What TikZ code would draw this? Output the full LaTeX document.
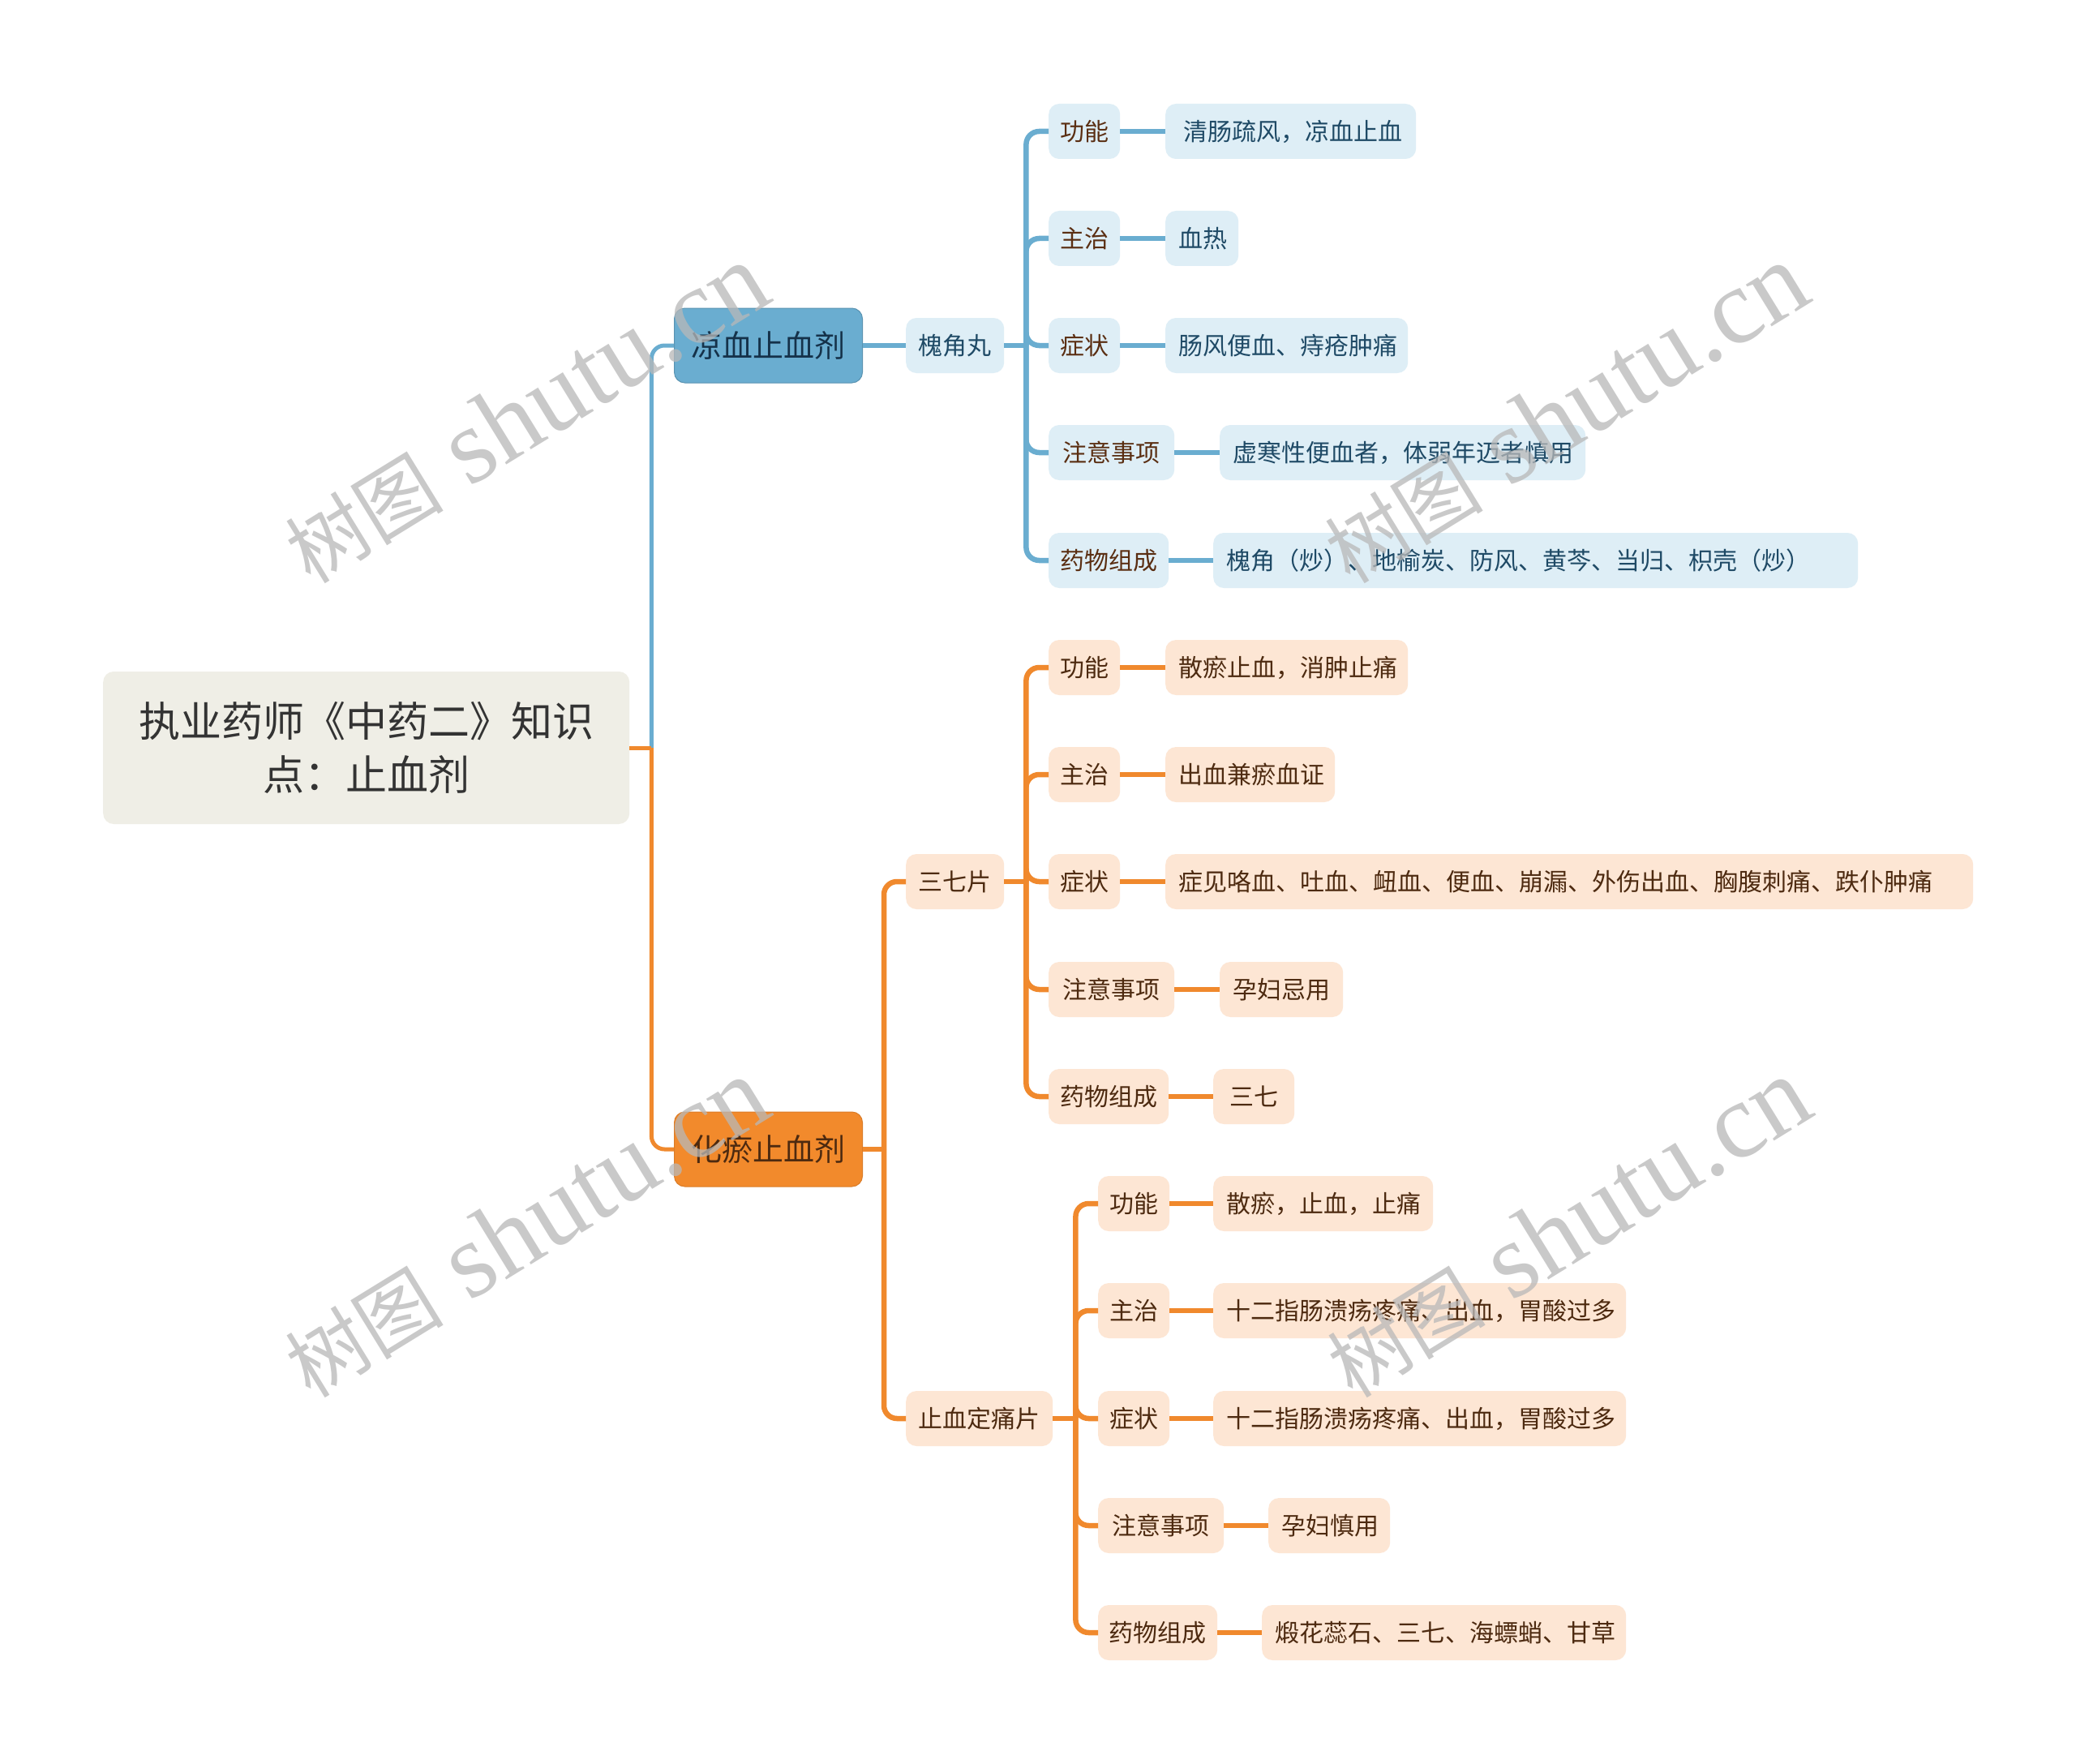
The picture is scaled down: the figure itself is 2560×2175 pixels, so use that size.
\documentclass[tikz,border=0pt]{standalone}
\usepackage{fontspec}
\newfontfamily\cjk{Noto Sans CJK SC}
\newfontfamily\wmlat{Liberation Serif}
\definecolor{rootfill}{HTML}{EFEEE6}
\definecolor{bmain}{HTML}{6AADD0}
\definecolor{bline}{HTML}{6AADD0}
\definecolor{bfill}{HTML}{DEEEF6}
\definecolor{btext}{HTML}{1F4A66}
\definecolor{btitle}{HTML}{15324A}
\definecolor{omain}{HTML}{F28A2C}
\definecolor{oline}{HTML}{F0892D}
\definecolor{ofill}{HTML}{FDE6D4}
\definecolor{otext}{HTML}{4D2A10}
\definecolor{labtext}{HTML}{5A2E12}
\definecolor{roottext}{HTML}{333333}
\definecolor{wmcol}{HTML}{B8B8B8}
\tikzset{
  small/.style={rounded corners=13pt, inner sep=0pt, minimum height=68pt, anchor=west, align=center, font=\cjk\fontsize{30}{36}\selectfont},
  blab/.style={small, fill=bfill, text=labtext},
  bval/.style={small, fill=bfill, text=btext, inner xsep=16pt, align=left},
  olab/.style={small, fill=ofill, text=otext},
  oval/.style={small, fill=ofill, text=otext, inner xsep=16pt, align=left},
  topic/.style={rounded corners=13pt, inner sep=0pt, minimum height=92pt, minimum width=232pt, anchor=west, font=\cjk\fontsize{38}{44}\selectfont},
  bcon/.style={draw=bline, line width=6.5pt, rounded corners=16pt},
  ocon/.style={draw=oline, line width=6.5pt, rounded corners=16pt},
  wm/.style={text=wmcol, opacity=0.75, rotate=31.6}
}
\newcommand{\wmtext}{{\cjk\fontsize{98}{110}\selectfont 树图}{\wmlat\fontsize{132}{140}\selectfont\ shutu.cn}}
\begin{document}
\begin{tikzpicture}[x=1pt,y=-1pt]
\useasboundingbox (0,0) rectangle (2560,2175);
\fill[white] (0,0) rectangle (2560,2175);

% root
\node[rounded corners=13pt, fill=rootfill, minimum width=649pt, minimum height=188pt, inner sep=0pt, anchor=west, align=center, text=roottext, font=\cjk\fontsize{51}{66}\selectfont] (root) at (127,922) {执业药师《中药二》知识\\点：止血剂};

% level 1
\node[topic, fill=bmain, draw=bmain!85!black, line width=1pt, text=btitle] (cool) at (831,426) {凉血止血剂};
\node[topic, fill=omain, draw=omain!90!black, line width=1pt, text=otext] (stasis) at (831,1417) {化瘀止血剂};

% blue branch
\node[small, fill=bfill, text=btext, minimum width=121pt] (hjw) at (1117,426) {槐角丸};
\node[blab, minimum width=88pt] (b1) at (1293,162) {功能};
\node[blab, minimum width=88pt] (b2) at (1293,294) {主治};
\node[blab, minimum width=88pt] (b3) at (1293,426) {症状};
\node[blab, minimum width=155pt] (b4) at (1293,558) {注意事项};
\node[blab, minimum width=148pt] (b5) at (1293,691) {药物组成};
\node[bval, text width=265pt, inner xsep=22pt] (bv1) at (1437,162) {清肠疏风，凉血止血};
\node[bval, text width=58pt] (bv2) at (1437,294) {血热};
\node[bval, text width=267pt] (bv3) at (1437,426) {肠风便血、痔疮肿痛};
\node[bval, text width=419pt] (bv4) at (1504,558) {虚寒性便血者，体弱年迈者慎用};
\node[bval, text width=763pt] (bv5) at (1496,691) {槐角（炒）、地榆炭、防风、黄芩、当归、枳壳（炒）};

% orange branch: 三七片
\node[small, fill=ofill, text=otext, minimum width=121pt] (sqp) at (1117,1087) {三七片};
\node[olab, minimum width=88pt] (s1) at (1293,823) {功能};
\node[olab, minimum width=88pt] (s2) at (1293,955) {主治};
\node[olab, minimum width=88pt] (s3) at (1293,1087) {症状};
\node[olab, minimum width=155pt] (s4) at (1293,1220) {注意事项};
\node[olab, minimum width=148pt] (s5) at (1293,1352) {药物组成};
\node[oval, text width=267pt] (sv1) at (1437,823) {散瘀止血，消肿止痛};
\node[oval, text width=177pt] (sv2) at (1437,955) {出血兼瘀血证};
\node[oval, text width=964pt] (sv3) at (1437,1087) {症见咯血、吐血、衄血、便血、崩漏、外伤出血、胸腹刺痛、跌仆肿痛};
\node[oval, text width=120pt] (sv4) at (1504,1220) {孕妇忌用};
\node[oval, text width=60pt, inner xsep=20pt] (sv5) at (1496,1352) {三七};

% orange branch: 止血定痛片
\node[small, fill=ofill, text=otext, minimum width=181pt] (zdp) at (1117,1749) {止血定痛片};
\node[olab, minimum width=88pt] (z1) at (1354,1484) {功能};
\node[olab, minimum width=88pt] (z2) at (1354,1616) {主治};
\node[olab, minimum width=88pt] (z3) at (1354,1749) {症状};
\node[olab, minimum width=155pt] (z4) at (1354,1881) {注意事项};
\node[olab, minimum width=147pt] (z5) at (1354,2013) {药物组成};
\node[oval, text width=239pt] (zv1) at (1496,1484) {散瘀，止血，止痛};
\node[oval, text width=477pt] (zv2) at (1496,1616) {十二指肠溃疡疼痛、出血，胃酸过多};
\node[oval, text width=477pt] (zv3) at (1496,1749) {十二指肠溃疡疼痛、出血，胃酸过多};
\node[oval, text width=118pt] (zv4) at (1564,1881) {孕妇慎用};
\node[oval, text width=417pt] (zv5) at (1556,2013) {煅花蕊石、三七、海螵蛸、甘草};

% connectors root -> level 1
\coordinate (j0) at ([xshift=27pt]root.east);
\draw[draw=bline, line width=5pt, rounded corners=16pt] (j0) |- (cool.west);
\draw[draw=oline, line width=5pt, rounded corners=16pt] (j0) |- (stasis.west);
\draw[draw=oline, line width=5pt] (root.east) -- (j0);

% blue connectors
\draw[bcon] (cool.east) -- (hjw.west);
\coordinate (jb) at ([xshift=27pt]hjw.east);
\draw[bcon] (hjw.east) -- (jb);
\foreach \n in {b1,b2,b3,b4,b5} \draw[bcon] (jb) |- (\n.west);
\foreach \a/\b in {b1/bv1,b2/bv2,b3/bv3,b4/bv4,b5/bv5} \draw[bcon] (\a.east) -- (\b.west);

% orange connectors
\coordinate (jo) at ([xshift=26pt]stasis.east);
\draw[ocon] (stasis.east) -- (jo);
\draw[ocon] (jo) |- (sqp.west);
\draw[ocon] (jo) |- (zdp.west);
\coordinate (js) at ([xshift=27pt]sqp.east);
\draw[ocon] (sqp.east) -- (js);
\foreach \n in {s1,s2,s3,s4,s5} \draw[ocon] (js) |- (\n.west);
\foreach \a/\b in {s1/sv1,s2/sv2,s3/sv3,s4/sv4,s5/sv5} \draw[ocon] (\a.east) -- (\b.west);
\coordinate (jz) at ([xshift=28pt]zdp.east);
\draw[ocon] (zdp.east) -- (jz);
\foreach \n in {z1,z2,z3,z4,z5} \draw[ocon] (jz) |- (\n.west);
\foreach \a/\b in {z1/zv1,z2/zv2,z3/zv3,z4/zv4,z5/zv5} \draw[ocon] (\a.east) -- (\b.west);

% watermarks
\node[wm] (wm1) at (648,510) {\wmtext};
\node[wm] (wm2) at (1930,510) {\wmtext};
\node[wm] (wm3) at (648,1514) {\wmtext};
\node[wm] (wm4) at (1933,1514) {\wmtext};
\end{tikzpicture}
\end{document}
